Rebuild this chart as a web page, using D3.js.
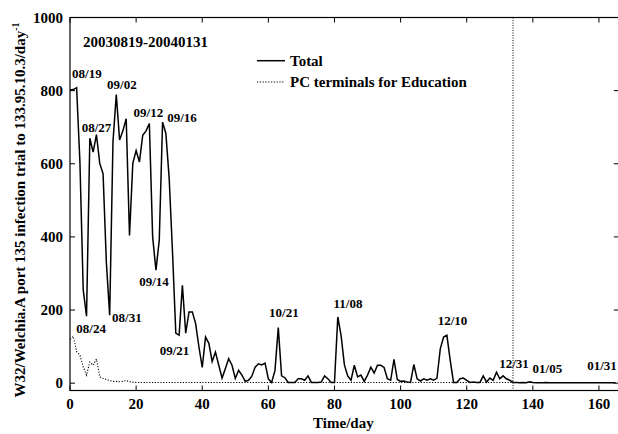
<!DOCTYPE html>
<html><head><meta charset="utf-8">
<script src="https://cdn.jsdelivr.net/npm/d3@7"></script>
<style>body{margin:0;background:#fff}svg{display:block}</style>
</head><body>
<svg id="c" width="618" height="434" font-family="'Liberation Serif', Tinos, 'Times New Roman', Times, 'DejaVu Serif', serif" font-weight="bold"></svg>
<script>
// ---- data ----
const days = d3.range(0, 166);
const total = [
802,803,808,605,255,183,670,632,680,601,
573,330,186,660,789,665,690,723,404,601,
636,605,678,690,710,400,309,391,714,683,
560,360,137,131,268,137,195,195,163,99,
43,126,109,59,85,49,14,40,67,49,
13,35,22,5,8,19,44,53,50,55,
12,2,35,152,20,15,2,2,2,12,
12,8,20,2,2,2,3,20,12,2,
2,181,130,50,20,8,49,17,22,5,
22,44,28,49,49,43,12,8,65,10,
5,6,3,2,51,12,6,12,8,12,
8,14,94,126,131,63,2,2,12,14,
8,2,3,2,2,20,3,14,8,30,
12,20,12,8,2,2,1,2,1,4,
2,1,1,1,2,1,1,1,1,1,
1,1,1,1,1,1,1,1,1,1,
1,1,1,1,1,1
];
const education = [
120,128,86,77,45,22,58,49,66,17,
13,10,7,5,5,4,5,7,4,3,
2,2,2,2,2,2,2,2,2,2,
2,2,2,2,2,2,2,2,2,2,
2,2,2,2,2,2,2,2,2,2,
2,2,2,2,2,2,2,2,2,2,
2,2,2,2,2,2,2,2,2,2,
2,2,2,2,2,2,2,2,2,2,
2,2,2,2,2,2,2,2,2,2,
2,2,2,2,2,2,2,2,2,2,
2,2,2,2,2,2,2,2,2,2,
2,2,2,2,2,2,2,2,2,2,
2,2,2,2,2,2,2,2,2,2,
2,2,2,2,2,2,2,2,2,2,
2,2,2,2,2,2,2,2,2,2,
2,2,2,2,2,2,2,2,2,2,
2,2,2,2,2,2
];
const xTicks = [0,20,40,60,80,100,120,140,160];
const yTicks = [0,200,400,600,800,1000];
const markerDay = 134;
const dateLabels = [
  ["08/19",5.1,835],["09/02",15.7,804],["08/27",8.0,687],["09/12",23.7,728],
  ["09/16",33.9,714],["09/14",25.4,266],["08/24",6.4,137],["08/31",17.2,168],
  ["09/21",31.6,77],["10/21",64.7,181],["11/08",84.1,206],["12/10",115.7,159],
  ["12/31",134.3,42],["01/05",144.4,28],["01/31",160.9,36]
];
const seriesNames = ["Total","PC terminals for Education"];
const periodTitle = "20030819-20040131";

// ---- chart ----
const svg = d3.select("#c");
const L = 70, R = 618.8, T = 17.5, B = 390.5;
const x = d3.scaleLinear().domain([0,166]).range([L,R]);
const y = d3.scaleLinear().domain([-20,1000]).range([B,T]);
const tl = 5;

svg.append("rect").attr("x",L).attr("y",T).attr("width",R-L).attr("height",B-T)
  .attr("fill","none").attr("stroke","#000").attr("stroke-width",1.2);

const g = svg.append("g").attr("stroke","#000").attr("stroke-width",1);
xTicks.forEach(t=>{
  g.append("line").attr("x1",x(t)).attr("x2",x(t)).attr("y1",B).attr("y2",B-tl);
  g.append("line").attr("x1",x(t)).attr("x2",x(t)).attr("y1",T).attr("y2",T+tl);
});
yTicks.forEach(t=>{
  g.append("line").attr("x1",L).attr("x2",L+tl).attr("y1",y(t)).attr("y2",y(t));
  g.append("line").attr("x1",R).attr("x2",R-tl).attr("y1",y(t)).attr("y2",y(t));
});
svg.append("g").selectAll("text").data(xTicks).join("text")
  .attr("x",d=>x(d)).attr("y",B+18).attr("text-anchor","middle").attr("font-size",15).text(d=>d);
svg.append("g").selectAll("text").data(yTicks).join("text")
  .attr("x",L-7).attr("y",d=>y(d)+5).attr("text-anchor","end").attr("font-size",15).text(d=>d);

svg.append("text").attr("x",(L+R)/2-1).attr("y",428).attr("text-anchor","middle").attr("font-size",15).text("Time/day");
const yt = svg.append("text").attr("transform","translate(25,210) rotate(-90)").attr("text-anchor","middle").attr("font-size",15);
yt.append("tspan").text("W32/Welchia.A port 135 infection trial to 133.95.10.3/day");
yt.append("tspan").attr("dy",-6).attr("font-size",10).text("-1");

svg.append("line").attr("x1",x(markerDay)).attr("x2",x(markerDay)).attr("y1",T).attr("y2",B)
  .attr("stroke","#000").attr("stroke-width",1).attr("stroke-dasharray","1,1.5");

const line = d3.line().x((d,i)=>x(days[i])).y(d=>y(d));
svg.append("path").datum(education).attr("d",line).attr("fill","none")
  .attr("stroke","#000").attr("stroke-width",1.1).attr("stroke-dasharray","1.2,1.6");
svg.append("path").datum(total).attr("d",line).attr("fill","none")
  .attr("stroke","#000").attr("stroke-width",1.5).attr("stroke-linejoin","miter");

svg.append("g").selectAll("text").data(dateLabels).join("text")
  .attr("x",d=>x(d[1])).attr("y",d=>y(d[2])).attr("text-anchor","middle").attr("font-size",13).text(d=>d[0]);
svg.append("text").attr("x",83).attr("y",47).attr("font-size",15).text(periodTitle);

svg.append("line").attr("x1",257).attr("x2",285).attr("y1",60.7).attr("y2",60.7).attr("stroke","#000").attr("stroke-width",1.5);
svg.append("text").attr("x",290).attr("y",65.5).attr("font-size",15).text(seriesNames[0]);
svg.append("line").attr("x1",257).attr("x2",285).attr("y1",82).attr("y2",82).attr("stroke","#000").attr("stroke-width",1.1).attr("stroke-dasharray","1.2,1.6");
svg.append("text").attr("x",290).attr("y",87).attr("font-size",15).text(seriesNames[1]);
</script>
</body></html>
